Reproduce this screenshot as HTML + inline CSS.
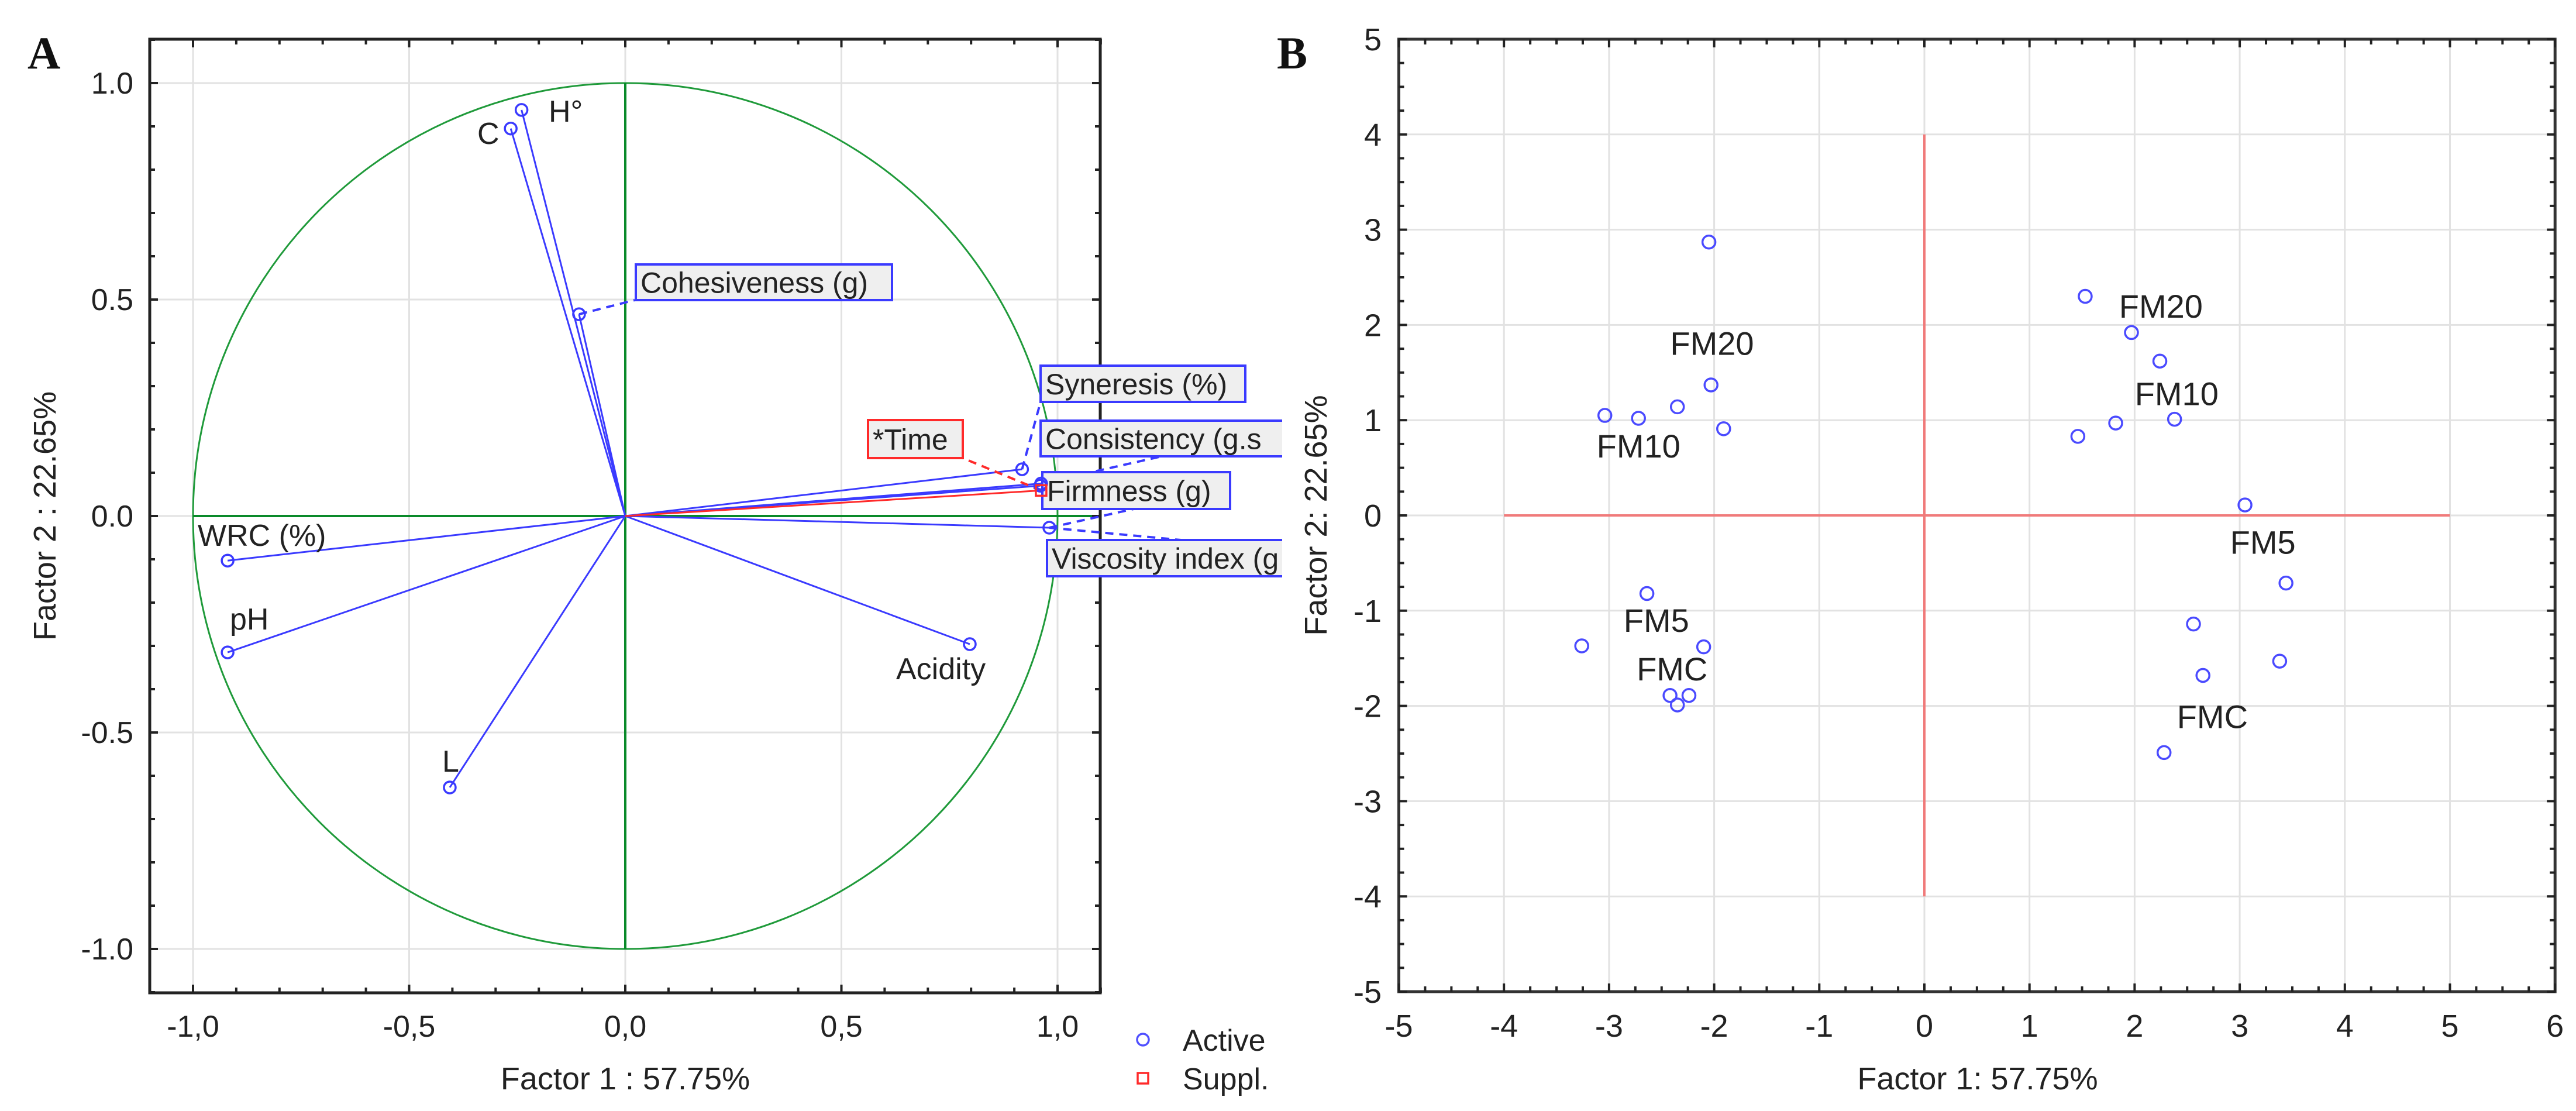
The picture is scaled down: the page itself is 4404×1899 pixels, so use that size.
<!DOCTYPE html>
<html><head><meta charset="utf-8"><style>
html,body{margin:0;padding:0;background:#fff;}
svg{display:block;font-family:"Liberation Sans",Arial,sans-serif;}
</style></head><body>
<svg id="chart" width="4404" height="1899" viewBox="0 0 4404 1899" xmlns="http://www.w3.org/2000/svg">
<g id="gA"></g>
<g id="gB"></g>
</svg>
<script>
// ---------- Panel A data ----------
const varNames = ["H°","C","Cohesiveness (g)","Syneresis (%)","Consistency (g.s)","Firmness (g)","Viscosity index (g)","WRC (%)","pH","L","Acidity"];
const varX = [-0.240,-0.265,-0.107,0.918,0.962,0.960,0.981,-0.920,-0.920,-0.406,0.797];
const varY = [0.938,0.895,0.466,0.108,0.075,0.070,-0.027,-0.103,-0.315,-0.627,-0.296];
const suppNames = ["*Time"];
const suppX = [0.962];
const suppY = [0.059];
const aTicks = [-1.0,-0.5,0.0,0.5,1.0];
const aXTickLabels = ["-1,0","-0,5","0,0","0,5","1,0"];
const aYTickLabels = ["-1.0","-0.5","0.0","0.5","1.0"];
// ---------- Panel B data ----------
const obsX = [-2.05,1.53,1.97,2.24,-2.03,-2.35,-3.04,-2.72,-1.91,1.82,2.38,1.46,3.05,3.44,-2.64,2.56,-3.26,-2.10,3.38,2.65,-2.42,-2.24,-2.35,2.28];
const obsY = [2.87,2.30,1.92,1.62,1.37,1.14,1.05,1.02,0.91,0.97,1.01,0.83,0.11,-0.71,-0.82,-1.14,-1.37,-1.38,-1.53,-1.68,-1.89,-1.89,-1.99,-2.49];
const groupNames = ["FM20","FM10","FM20","FM10","FM5","FM5","FMC","FMC"];
const groupX = [-2.02,-2.72,2.25,2.40,3.22,-2.55,-2.40,2.74];
const groupY = [1.81,0.73,2.20,1.28,-0.28,-1.10,-1.61,-2.11];
const bXTicks = [-5,-4,-3,-2,-1,0,1,2,3,4,5,6];
const bYTicks = [-5,-4,-3,-2,-1,0,1,2,3,4,5];

const NS="http://www.w3.org/2000/svg";
function mk(parent,tag,attrs,text){const e=document.createElementNS(NS,tag);for(const k in attrs)e.setAttribute(k,attrs[k]);if(text!==undefined)e.textContent=text;parent.appendChild(e);return e;}

// ================= PANEL A =================
const gA=document.getElementById('gA');
const ax=v=>1069+v*739, ay=v=>882-v*740;
const AL=256,AR=1881,AT=67,AB=1697;
// grid
aTicks.forEach(t=>{
 let l=mk(gA,'line',{x1:ax(t),x2:ax(t),y1:AT,y2:AB,stroke:'#e2e2e2','stroke-width':3});
 
 l=mk(gA,'line',{x1:AL,x2:AR,y1:ay(t),y2:ay(t),stroke:'#e2e2e2','stroke-width':3});
 
});
// unit circle + green axes
let c=mk(gA,'ellipse',{cx:ax(0),cy:ay(0),rx:739,ry:740,fill:'none',stroke:'#1f9a3a','stroke-width':3});

c=mk(gA,'line',{x1:ax(-1),x2:AR,y1:ay(0),y2:ay(0),stroke:'#0a8a2a','stroke-width':4});

c=mk(gA,'line',{x1:ax(0),x2:ax(0),y1:ay(1),y2:ay(-1),stroke:'#0a8a2a','stroke-width':4});

// frame
c=mk(gA,'rect',{x:AL,y:AT,width:AR-AL,height:AB-AT,fill:'none',stroke:'#222','stroke-width':5});

// ticks
for(let i=-11;i<=11;i++){const v=i/10;const major=(i%5===0);const L=major?14:9;
 [[ax(v),AB,ax(v),AB-L],[ax(v),AT,ax(v),AT+L],[AL,ay(v),AL+L,ay(v)],[AR,ay(v),AR-L,ay(v)]].forEach(p=>{
  const t=mk(gA,'line',{x1:p[0],y1:p[1],x2:p[2],y2:p[3],stroke:'#222','stroke-width':4});
  });
}
aTicks.forEach((t,i)=>{
 let e=mk(gA,'text',{x:ax(t),y:1772,'text-anchor':'middle','font-size':52,fill:'#222'},aXTickLabels[i]);
 
 e=mk(gA,'text',{x:228,y:ay(t)+18,'text-anchor':'end','font-size':52,fill:'#222'},aYTickLabels[i]);
 
});
// vectors
const blue='#3a3aff';
varX.forEach((v,i)=>{
 const l=mk(gA,'line',{x1:ax(0),y1:ay(0),x2:ax(v),y2:ay(varY[i]),stroke:blue,'stroke-width':3});
 
});
suppX.forEach((v,i)=>{
 const l=mk(gA,'line',{x1:ax(0),y1:ay(0),x2:ax(v),y2:ay(suppY[i]),stroke:'#ff2a2a','stroke-width':3});
 
});
// label boxes / leaders
function boxLabel(name,bx,by,bw,bh,col,px,py,lx,ly,dn){
 const d=mk(gA,'line',{x1:px,y1:py,x2:lx,y2:ly,stroke:col,'stroke-width':4,'stroke-dasharray':'14 10'});
 
 const r=mk(gA,'rect',{x:bx,y:by,width:bw,height:bh,fill:'#efefef',stroke:col,'stroke-width':4});
 
 const t=mk(gA,'text',{x:bx+8,y:by+bh/2+18,'font-size':50,fill:'#222'},name);
 
}
boxLabel(varNames[2],1087,452,438,61,blue,ax(varX[2]),ay(varY[2]),1085,513,'cohesiveness');
boxLabel(varNames[3],1779,625,350,62,blue,ax(varX[3]),ay(varY[3]),1779,687,'syneresis');
boxLabel("Consistency (g.s",1779,719,430,61,blue,ax(varX[4]),ay(varY[4]),1986,780,'consistency');
boxLabel(varNames[5],1782,807,321,63,blue,ax(varX[6]),ay(varY[6]),1938,870,'firmness');
boxLabel("Viscosity index (g",1790,923,420,62,blue,ax(varX[6]),ay(varY[6]),2019,923,'viscosity-index');
boxLabel(suppNames[0],1484,718,162,65,'#ff2a2a',ax(suppX[0]),ay(suppY[0]),1646,783,'time');
// clip boxes at panel edge
let cover=mk(gA,'rect',{x:2192,y:600,width:40,height:420,fill:'#fff'});

// markers
varX.forEach((v,i)=>{
 const m=mk(gA,'circle',{cx:ax(v),cy:ay(varY[i]),r:10,fill:'none',stroke:blue,'stroke-width':3.5});
 
});
suppX.forEach((v,i)=>{
 const m=mk(gA,'rect',{x:ax(v)-9,y:ay(suppY[i])-9,width:18,height:18,fill:'none',stroke:'#ff2a2a','stroke-width':3.5});
 
});
// plain labels
[[0,'h-label',938,208],[1,'c-label',816,246],[7,'wrc-label',338,933],[8,'ph-label',393,1076],[9,'l-label',756,1319],[10,'acidity-label',1532,1161]].forEach(a=>{
 const t=mk(gA,'text',{x:a[2],y:a[3],'font-size':52,fill:'#222'},varNames[a[0]]);
 
});
let e=mk(gA,'text',{x:1069,y:1862,'text-anchor':'middle','font-size':54,fill:'#222'},'Factor 1 : 57.75%');

e=mk(gA,'text',{x:0,y:0,'text-anchor':'middle','font-size':54,fill:'#222',transform:'translate(95,882) rotate(-90)'},'Factor 2 : 22.65%');

e=mk(gA,'text',{x:47,y:117,'font-size':78,'font-weight':'bold','font-family':'Liberation Serif, serif',fill:'#111'},'A');

// legend
e=mk(gA,'circle',{cx:1954,cy:1777,r:10,fill:'none',stroke:'#5050ff','stroke-width':3.5});

e=mk(gA,'text',{x:2022,y:1796,'font-size':52,fill:'#222'},'Active');

e=mk(gA,'rect',{x:1945,y:1834,width:18,height:18,fill:'none',stroke:'#ff2a2a','stroke-width':3.5});

e=mk(gA,'text',{x:2022,y:1862,'font-size':52,fill:'#222'},'Suppl.');


// ================= PANEL B =================
const gB=document.getElementById('gB');
const bx=v=>3290+v*179.7, by=v=>881-v*162.8;
const BL=bx(-5),BR=bx(6),BT=by(5),BB=by(-5);
bXTicks.forEach(t=>{
 const l=mk(gB,'line',{x1:bx(t),x2:bx(t),y1:BT,y2:BB,stroke:'#e2e2e2','stroke-width':3});
 
});
bYTicks.forEach(t=>{
 const l=mk(gB,'line',{x1:BL,x2:BR,y1:by(t),y2:by(t),stroke:'#e2e2e2','stroke-width':3});
 
});
e=mk(gB,'line',{x1:bx(-4),x2:bx(5),y1:by(0),y2:by(0),stroke:'#f07a7a','stroke-width':4});

e=mk(gB,'line',{x1:bx(0),x2:bx(0),y1:by(4),y2:by(-4),stroke:'#f07a7a','stroke-width':4});

e=mk(gB,'rect',{x:BL,y:BT,width:BR-BL,height:BB-BT,fill:'none',stroke:'#333','stroke-width':5});

for(let i=-20;i<=24;i++){const v=i/4;const major=(i%4===0);const L=major?14:9;
 const t=mk(gB,'line',{x1:bx(v),y1:BB,x2:bx(v),y2:BB-L,stroke:'#222','stroke-width':4});
 
 const t2=mk(gB,'line',{x1:bx(v),y1:BT,x2:bx(v),y2:BT+L,stroke:'#222','stroke-width':4});
 
}
for(let i=-20;i<=20;i++){const v=i/4;const major=(i%4===0);const L=major?14:9;
 const t=mk(gB,'line',{x1:BL,y1:by(v),x2:BL+L,y2:by(v),stroke:'#222','stroke-width':4});
 
 const t2=mk(gB,'line',{x1:BR,y1:by(v),x2:BR-L,y2:by(v),stroke:'#222','stroke-width':4});
 
}
bXTicks.forEach(t=>{
 const e=mk(gB,'text',{x:bx(t),y:1772,'text-anchor':'middle','font-size':54,fill:'#222'},String(t));
 
});
bYTicks.forEach(t=>{
 const e=mk(gB,'text',{x:2362,y:by(t)+19,'text-anchor':'end','font-size':54,fill:'#222'},String(t));
 
});
obsX.forEach((v,i)=>{
 const m=mk(gB,'circle',{cx:bx(v),cy:by(obsY[i]),r:11,fill:'none',stroke:'#4a4aff','stroke-width':3.5});
 
});
groupNames.forEach((n,i)=>{
 const t=mk(gB,'text',{x:bx(groupX[i]),y:by(groupY[i])+20,'text-anchor':'middle','font-size':56,fill:'#222'},n);
 
});
e=mk(gB,'text',{x:3381,y:1862,'text-anchor':'middle','font-size':54,fill:'#222'},'Factor 1: 57.75%');

e=mk(gB,'text',{x:0,y:0,'text-anchor':'middle','font-size':54,fill:'#222',transform:'translate(2268,881) rotate(-90)'},'Factor 2: 22.65%');

e=mk(gB,'text',{x:2183,y:117,'font-size':78,'font-weight':'bold','font-family':'Liberation Serif, serif',fill:'#111'},'B');

</script>
</body></html>
